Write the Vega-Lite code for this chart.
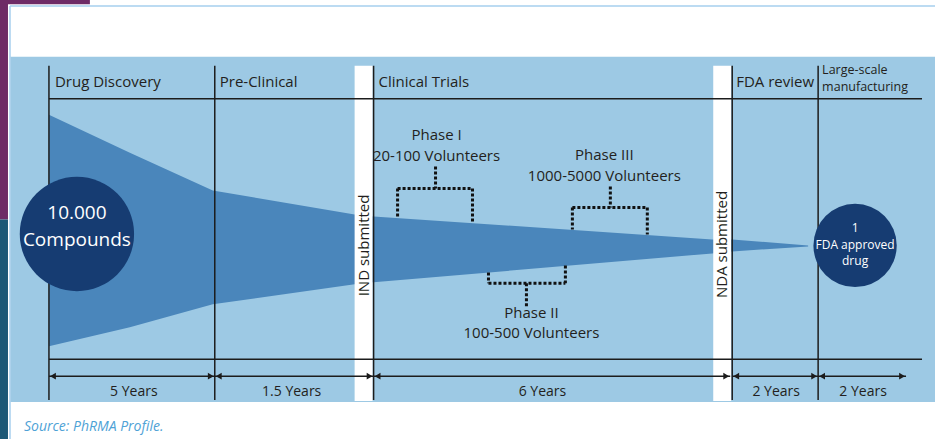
{
  "$schema": "https://vega.github.io/schema/vega-lite/v6.json",
  "width": 936,
  "height": 440,
  "autosize": {"type": "fit", "contains": "padding"},
  "padding": 0,
  "background": "white",
  "config": {"view": {"stroke": null}, "text": {"font": "Open Sans"}},
  "datasets": {
    "strip": [
      {"part": "purple", "x": 0, "x2": 8, "y": 0, "y2": 220},
      {"part": "teal", "x": 0, "x2": 8, "y": 220, "y2": 440},
      {"part": "purple", "x": 0, "x2": 90, "y": 0, "y2": 4.5}
    ],
    "frame": [{"x": 8, "x2": 936, "y": 4.5, "y2": 440}],
    "borderH": [{"x": 10, "x2": 936, "y": 6}],
    "borderV": [{"x": 10, "y": 6, "y2": 440}],
    "panel": [{"x": 10.5, "x2": 936, "y": 57, "y2": 403}],
    "bands": [
      {"name": "IND", "x": 355, "x2": 373, "y": 66, "y2": 402},
      {"name": "NDA", "x": 714, "x2": 732, "y": 66, "y2": 402}
    ],
    "funnel": [
      {"x": 49, "top": 115, "bottom": 347},
      {"x": 130, "top": 153, "bottom": 328},
      {"x": 213, "top": 191, "bottom": 305},
      {"x": 355, "top": 215, "bottom": 285},
      {"x": 374, "top": 217, "bottom": 283},
      {"x": 713, "top": 240, "bottom": 254},
      {"x": 733, "top": 240, "bottom": 252},
      {"x": 809, "top": 246, "bottom": 247}
    ],
    "vlines": [
      {"x": 49, "y": 66, "y2": 401},
      {"x": 215, "y": 66, "y2": 401},
      {"x": 374, "y": 66, "y2": 401},
      {"x": 733, "y": 66, "y2": 401},
      {"x": 819, "y": 66, "y2": 401}
    ],
    "hlines": [
      {"x": 49, "x2": 923, "y": 99},
      {"x": 49, "x2": 923, "y": 360},
      {"x": 49, "x2": 215, "y": 377},
      {"x": 215, "x2": 374, "y": 377},
      {"x": 374, "x2": 731, "y": 377},
      {"x": 733, "x2": 819, "y": 377},
      {"x": 819, "x2": 907, "y": 377}
    ],
    "arrows": [
      {"dir": "left", "x": 53, "y": 377},
      {"dir": "right", "x": 211, "y": 377},
      {"dir": "left", "x": 219, "y": 377},
      {"dir": "right", "x": 370, "y": 377},
      {"dir": "left", "x": 378, "y": 377},
      {"dir": "right", "x": 727, "y": 377},
      {"dir": "left", "x": 737, "y": 377},
      {"dir": "right", "x": 815, "y": 377},
      {"dir": "left", "x": 823, "y": 377},
      {"dir": "right", "x": 903, "y": 377}
    ],
    "brackets": [
      {"phase": "I", "x": 436, "x2": 436, "y": 167, "y2": 189},
      {"phase": "I", "x": 398, "x2": 473, "y": 189, "y2": 189},
      {"phase": "I", "x": 398, "x2": 398, "y": 189, "y2": 217},
      {"phase": "I", "x": 473, "x2": 473, "y": 189, "y2": 222},
      {"phase": "III", "x": 611, "x2": 611, "y": 187, "y2": 208},
      {"phase": "III", "x": 573, "x2": 648, "y": 208, "y2": 208},
      {"phase": "III", "x": 573, "x2": 573, "y": 208, "y2": 230},
      {"phase": "III", "x": 648, "x2": 648, "y": 208, "y2": 235},
      {"phase": "II", "x": 527, "x2": 527, "y": 284, "y2": 307},
      {"phase": "II", "x": 489, "x2": 566, "y": 284, "y2": 284},
      {"phase": "II", "x": 489, "x2": 489, "y": 273, "y2": 284},
      {"phase": "II", "x": 566, "x2": 566, "y": 266, "y2": 284}
    ],
    "startCircle": [{"x": 77, "y": 234.5}],
    "endCircle": [{"x": 856, "y": 246}],
    "texts": [
      {"g": "header", "x": 55, "y": 82, "t": "Drug Discovery"},
      {"g": "header", "x": 220, "y": 82, "t": "Pre-Clinical"},
      {"g": "header", "x": 379, "y": 82, "t": "Clinical Trials"},
      {"g": "header", "x": 737, "y": 82, "t": "FDA review"},
      {"g": "header2", "x": 823, "y": 70.5, "t": "Large-scale\nmanufacturing"},
      {"g": "phase", "x": 437, "y": 135, "t": "Phase I"},
      {"g": "phase", "x": 437, "y": 156, "t": "20-100 Volunteers"},
      {"g": "phase", "x": 605, "y": 155, "t": "Phase III"},
      {"g": "phase", "x": 605, "y": 176, "t": "1000-5000 Volunteers"},
      {"g": "phase", "x": 532, "y": 314, "t": "Phase II"},
      {"g": "phase", "x": 532, "y": 334, "t": "100-500 Volunteers"},
      {"g": "years", "x": 134, "y": 393, "t": "5 Years"},
      {"g": "years", "x": 292, "y": 393, "t": "1.5 Years"},
      {"g": "years", "x": 543, "y": 393, "t": "6 Years"},
      {"g": "years", "x": 777, "y": 393, "t": "2 Years"},
      {"g": "years", "x": 864, "y": 393, "t": "2 Years"},
      {"g": "big", "x": 77, "y": 213, "t": "10.000\nCompounds"},
      {"g": "small", "x": 856, "y": 229, "t": "1\nFDA approved\ndrug"},
      {"g": "rotated", "x": 364, "y": 246, "t": "IND submitted"},
      {"g": "rotated", "x": 723, "y": 245, "t": "NDA submitted"},
      {"g": "source", "x": 24, "y": 428, "t": "Source: PhRMA Profile."}
    ]
  },
  "layer": [
    {
      "data": {"name": "strip"},
      "mark": {"type": "rect"},
      "encoding": {
        "x": {"field": "x", "type": "quantitative", "scale": {"domain": [0, 936], "nice": false, "zero": false}, "axis": null},
        "x2": {"field": "x2"},
        "y": {"field": "y", "type": "quantitative", "scale": {"domain": [0, 440], "nice": false, "zero": false, "reverse": true}, "axis": null},
        "y2": {"field": "y2"},
        "color": {"field": "part", "type": "nominal", "scale": {"domain": ["purple", "teal"], "range": ["#6e2b66", "#1b5877"]}, "legend": null}
      }
    },
    {
      "data": {"name": "frame"},
      "mark": {"type": "rect", "color": "white"},
      "encoding": {
        "x": {"field": "x", "type": "quantitative"},
        "x2": {"field": "x2"},
        "y": {"field": "y", "type": "quantitative"},
        "y2": {"field": "y2"}
      }
    },
    {
      "data": {"name": "borderH"},
      "mark": {"type": "rule", "color": "#a6cfee", "strokeWidth": 1.5},
      "encoding": {
        "x": {"field": "x", "type": "quantitative"},
        "x2": {"field": "x2"},
        "y": {"field": "y", "type": "quantitative"}
      }
    },
    {
      "data": {"name": "borderV"},
      "mark": {"type": "rule", "color": "#a6cfee", "strokeWidth": 1.5},
      "encoding": {
        "x": {"field": "x", "type": "quantitative"},
        "y": {"field": "y", "type": "quantitative"},
        "y2": {"field": "y2"}
      }
    },
    {
      "data": {"name": "panel"},
      "mark": {"type": "rect", "color": "#9dc9e4"},
      "encoding": {
        "x": {"field": "x", "type": "quantitative"},
        "x2": {"field": "x2"},
        "y": {"field": "y", "type": "quantitative"},
        "y2": {"field": "y2"}
      }
    },
    {
      "data": {"name": "funnel"},
      "mark": {"type": "area", "color": "#4a86bb", "interpolate": "linear", "orient": "vertical"},
      "encoding": {
        "x": {"field": "x", "type": "quantitative"},
        "y": {"field": "top", "type": "quantitative", "stack": null},
        "y2": {"field": "bottom"}
      }
    },
    {
      "data": {"name": "bands"},
      "mark": {"type": "rect", "color": "white"},
      "encoding": {
        "x": {"field": "x", "type": "quantitative"},
        "x2": {"field": "x2"},
        "y": {"field": "y", "type": "quantitative"},
        "y2": {"field": "y2"}
      }
    },
    {
      "data": {"name": "vlines"},
      "mark": {"type": "rule", "color": "#1c1c1c", "strokeWidth": 1.5},
      "encoding": {
        "x": {"field": "x", "type": "quantitative"},
        "y": {"field": "y", "type": "quantitative"},
        "y2": {"field": "y2"}
      }
    },
    {
      "data": {"name": "hlines"},
      "mark": {"type": "rule", "color": "#1c1c1c", "strokeWidth": 1.5},
      "encoding": {
        "x": {"field": "x", "type": "quantitative"},
        "x2": {"field": "x2"},
        "y": {"field": "y", "type": "quantitative"}
      }
    },
    {
      "data": {"name": "arrows"},
      "mark": {"type": "point", "filled": true, "color": "#1c1c1c", "opacity": 1, "size": 45},
      "encoding": {
        "x": {"field": "x", "type": "quantitative"},
        "y": {"field": "y", "type": "quantitative"},
        "shape": {"field": "dir", "type": "nominal", "scale": {"domain": ["left", "right"], "range": ["triangle-left", "triangle-right"]}, "legend": null}
      }
    },
    {
      "data": {"name": "brackets"},
      "mark": {"type": "rule", "color": "#111111", "strokeWidth": 3, "strokeDash": [3, 2]},
      "encoding": {
        "x": {"field": "x", "type": "quantitative"},
        "x2": {"field": "x2"},
        "y": {"field": "y", "type": "quantitative"},
        "y2": {"field": "y2"}
      }
    },
    {
      "data": {"name": "startCircle"},
      "mark": {"type": "circle", "color": "#163c72", "opacity": 1, "size": 13070},
      "encoding": {
        "x": {"field": "x", "type": "quantitative"},
        "y": {"field": "y", "type": "quantitative"}
      }
    },
    {
      "data": {"name": "endCircle"},
      "mark": {"type": "circle", "color": "#163c72", "opacity": 1, "size": 6940},
      "encoding": {
        "x": {"field": "x", "type": "quantitative"},
        "y": {"field": "y", "type": "quantitative"}
      }
    },
    {
      "data": {"name": "texts"},
      "transform": [{"filter": {"field": "g", "equal": "header"}}],
      "mark": {"type": "text", "align": "left", "baseline": "middle", "fontSize": 15, "color": "#231f20"},
      "encoding": {
        "x": {"field": "x", "type": "quantitative"},
        "y": {"field": "y", "type": "quantitative"},
        "text": {"field": "t"}
      }
    },
    {
      "data": {"name": "texts"},
      "transform": [{"filter": {"field": "g", "equal": "header2"}}],
      "mark": {"type": "text", "align": "left", "baseline": "middle", "fontSize": 12.5, "color": "#231f20", "lineHeight": 17, "lineBreak": "\n"},
      "encoding": {
        "x": {"field": "x", "type": "quantitative"},
        "y": {"field": "y", "type": "quantitative"},
        "text": {"field": "t"}
      }
    },
    {
      "data": {"name": "texts"},
      "transform": [{"filter": {"field": "g", "equal": "phase"}}],
      "mark": {"type": "text", "align": "center", "baseline": "middle", "fontSize": 15, "color": "#231f20"},
      "encoding": {
        "x": {"field": "x", "type": "quantitative"},
        "y": {"field": "y", "type": "quantitative"},
        "text": {"field": "t"}
      }
    },
    {
      "data": {"name": "texts"},
      "transform": [{"filter": {"field": "g", "equal": "years"}}],
      "mark": {"type": "text", "align": "center", "baseline": "middle", "fontSize": 14, "color": "#231f20"},
      "encoding": {
        "x": {"field": "x", "type": "quantitative"},
        "y": {"field": "y", "type": "quantitative"},
        "text": {"field": "t"}
      }
    },
    {
      "data": {"name": "texts"},
      "transform": [{"filter": {"field": "g", "equal": "big"}}],
      "mark": {"type": "text", "align": "center", "baseline": "middle", "fontSize": 19, "color": "white", "lineHeight": 27, "lineBreak": "\n"},
      "encoding": {
        "x": {"field": "x", "type": "quantitative"},
        "y": {"field": "y", "type": "quantitative"},
        "text": {"field": "t"}
      }
    },
    {
      "data": {"name": "texts"},
      "transform": [{"filter": {"field": "g", "equal": "small"}}],
      "mark": {"type": "text", "align": "center", "baseline": "middle", "fontSize": 12, "color": "white", "lineHeight": 16.5, "lineBreak": "\n"},
      "encoding": {
        "x": {"field": "x", "type": "quantitative"},
        "y": {"field": "y", "type": "quantitative"},
        "text": {"field": "t"}
      }
    },
    {
      "data": {"name": "texts"},
      "transform": [{"filter": {"field": "g", "equal": "rotated"}}],
      "mark": {"type": "text", "align": "center", "baseline": "middle", "fontSize": 15, "angle": 270, "color": "#231f20"},
      "encoding": {
        "x": {"field": "x", "type": "quantitative"},
        "y": {"field": "y", "type": "quantitative"},
        "text": {"field": "t"}
      }
    },
    {
      "data": {"name": "texts"},
      "transform": [{"filter": {"field": "g", "equal": "source"}}],
      "mark": {"type": "text", "align": "left", "baseline": "middle", "fontSize": 14, "fontStyle": "italic", "color": "#4ea2d6"},
      "encoding": {
        "x": {"field": "x", "type": "quantitative"},
        "y": {"field": "y", "type": "quantitative"},
        "text": {"field": "t"}
      }
    }
  ]
}
